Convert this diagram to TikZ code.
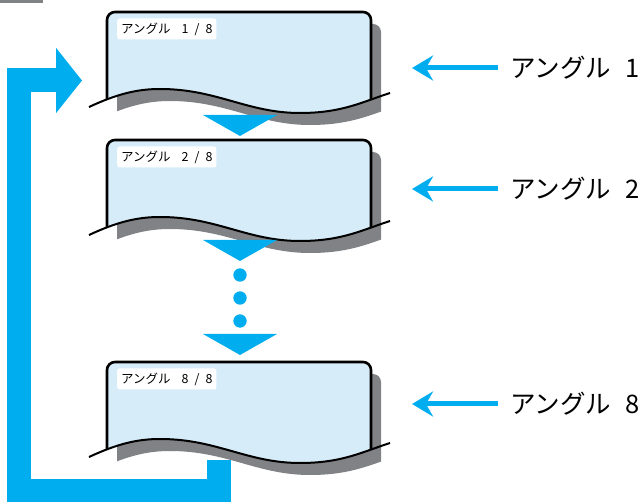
\documentclass[tikz,border=0pt]{standalone}
\usepackage{fontspec}
\setmainfont{Noto Sans CJK JP}
\usetikzlibrary{positioning,arrows.meta}

\definecolor{flowblue}{HTML}{00AEEF}
\definecolor{cardfill}{HTML}{D6EDF9}
\definecolor{cardshadow}{HTML}{808285}

\tikzset{
  cardline/.style={draw=black, line width=2.6pt, rounded corners=8pt},
  waveline/.style={line width=2pt},
  tagbox/.style={fill=white, rounded corners=2.5pt, anchor=west, inner xsep=4pt,
    minimum height=21pt, font=\fontsize{12.5}{12.5}\selectfont},
  sidelabel/.style={anchor=west, inner sep=0pt, font=\fontsize{25.5}{25.5}\selectfont},
  sidearrow/.style={flowblue, line width=5pt, shorten <=12pt,
    -{Stealth[length=21pt,width=25pt,inset=7pt]}},
  looparrow/.style={flowblue, line width=24pt, line join=miter,
    -{Triangle[length=26pt,width=64pt]}}
}

% bottom edge of a card, torn paper
\newcommand\tornedge{(-18,95) .. controls (10,82) and (30,77) .. (53,77)
  .. controls (110,77) and (140,101) .. (193,101)
  .. controls (235,101) and (255,90) .. (283,81)}

\newcommand\papercard[2]{%
  \begin{scope}[shift={(#1)}]
    \begin{scope}[shift={(10,12)}]
      \clip \tornedge -- (283,-20) -- (-18,-20) -- cycle;
      \fill[cardshadow, rounded corners=8pt] (0,0) rectangle (264,140);
    \end{scope}
    \begin{scope}
      \clip \tornedge -- (283,-20) -- (-18,-20) -- cycle;
      \fill[cardfill, cardline] (0,0) rectangle (264,140);
    \end{scope}
    \draw[waveline] \tornedge;
    \node[tagbox] (#1-tag) at (10,17)
      {アングル\hspace{11pt}#2\hspace{6pt}/\hspace{6pt}8};
  \end{scope}
}

\begin{document}
\begin{tikzpicture}[x=1pt, y=-1pt]
  \useasboundingbox (0,0) rectangle (643,502);
  \fill[cardshadow] (0,0) rectangle (43,3);

  % loop back to the first angle
  \coordinate (loopstart) at (219,460);
  \coordinate (loopend) at (82,80.5);
  \draw[looparrow] (loopstart) -- (219,491) -- (19,491) -- (19,80.5) -- (loopend);

  \coordinate (card1) at (107,12);
  \coordinate (card2) at (107,140);
  \coordinate (card8) at (107,362);
  \papercard{card1}{1}
  \papercard{card2}{2}
  \papercard{card8}{8}

  \foreach \ty in {115,240,334}
    \fill[flowblue] (203,\ty) -- (277,\ty) -- (240,\ty+21) -- cycle;
  \foreach \dy in {275,298,321}
    \fill[flowblue] (240,\dy) circle[radius=6.7];

  \foreach \n/\ay in {1/68,2/189,8/404}{
    \node[sidelabel] (angle\n) at (510,\ay) {アングル\hspace{14pt}\n};
    \coordinate (tip\n) at (412,\ay);
    \draw[sidearrow] (angle\n.west) -- (tip\n);
  }
\end{tikzpicture}
\end{document}
